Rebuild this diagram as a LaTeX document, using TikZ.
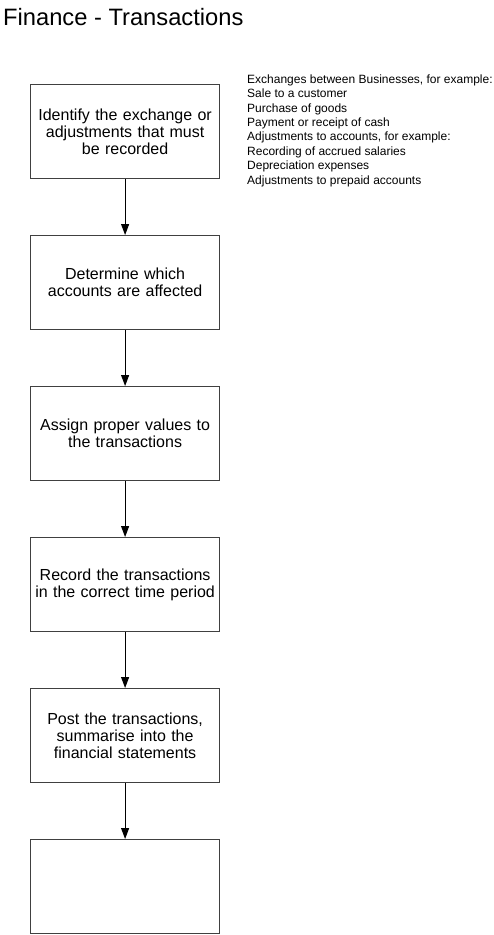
\documentclass[tikz,border=0pt]{standalone}
\usepackage{fontspec}
\setmainfont{Liberation Sans}
\usetikzlibrary{arrows.meta}
\begin{document}
\begin{tikzpicture}[x=1pt,y=1pt,
  stepbox/.style={draw=black!75, line width=1.2pt, minimum width=189pt, minimum height=94pt,
    inner sep=0pt, align=center, font=\fontsize{16}{17}\selectfont, anchor=north west, text width=180pt},
  conn/.style={-{Triangle[width=8pt,length=11pt]}, line width=1pt, black}]
\useasboundingbox (0,0) rectangle (493,-935);
\node[anchor=base west, inner sep=0pt, font=\fontsize{23.7}{26}\selectfont] (title) at (3,-25.5) {Finance - Transactions};
\node[stepbox] (b1) at (30,-84) {Identify the exchange or\\adjustments that must\\be recorded};
\node[stepbox] (b2) at (30,-235) {Determine which\\accounts are affected};
\node[stepbox] (b3) at (30,-386) {Assign proper values to\\the transactions};
\node[stepbox] (b4) at (30,-537) {Record the transactions\\in the correct time period};
\node[stepbox] (b5) at (30,-688) {Post the transactions,\\summarise into the\\financial statements};
\node[stepbox] (b6) at (30,-839) {};
\node[anchor=north west, inner sep=0pt, align=left, font=\fontsize{12}{14.4}\selectfont] (note) at (247,-74.5)
 {Exchanges between Businesses, for example:\\Sale to a customer\\Purchase of goods\\Payment or receipt of cash\\Adjustments to accounts, for example:\\Recording of accrued salaries\\Depreciation expenses\\Adjustments to prepaid accounts};
\draw[conn] (b1.south) -- (b2.north);
\draw[conn] (b2.south) -- (b3.north);
\draw[conn] (b3.south) -- (b4.north);
\draw[conn] (b4.south) -- (b5.north);
\draw[conn] (b5.south) -- (b6.north);
\end{tikzpicture}
\end{document}
